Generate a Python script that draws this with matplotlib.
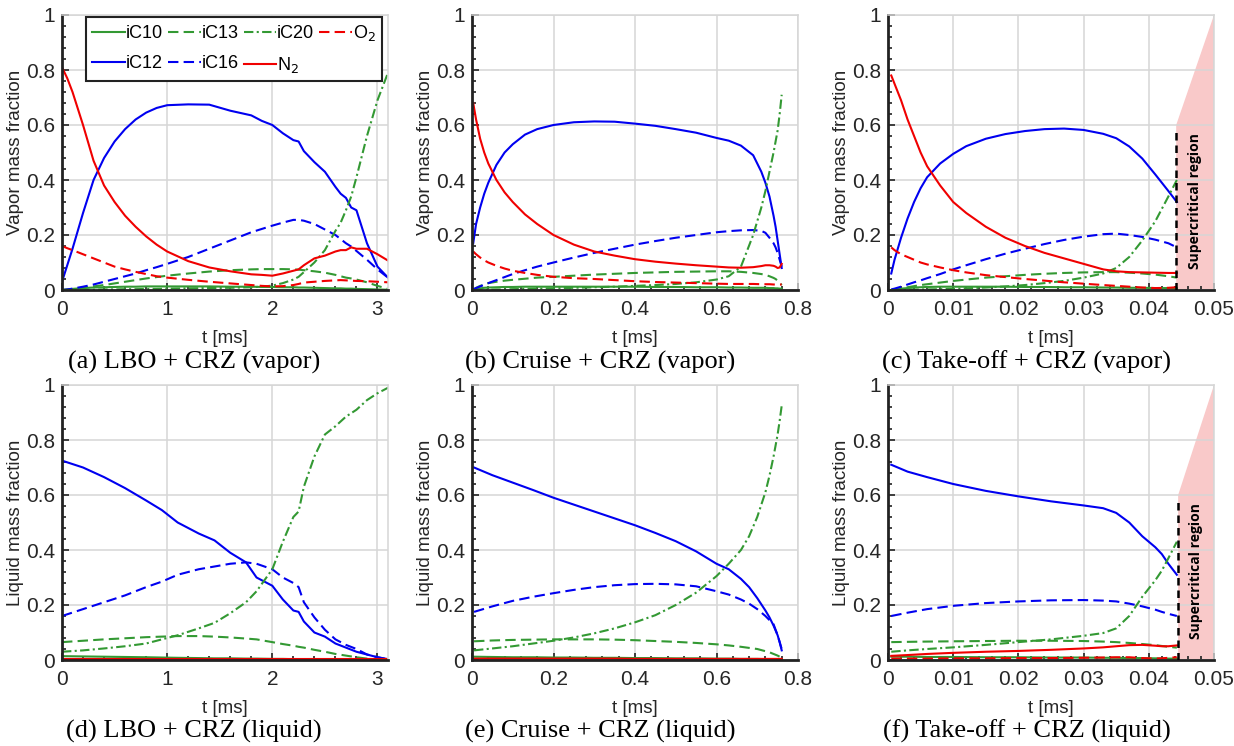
import matplotlib.pyplot as plt
from matplotlib.ticker import MultipleLocator, FuncFormatter

plt.rcParams['font.family'] = ['Liberation Sans', 'DejaVu Sans']

# ---- (a) LBO + CRZ, vapor ----
t_a = [0, 0.05, 0.1, 0.2, 0.3, 0.4, 0.5, 0.6, 0.7, 0.8, 0.9, 1.0, 1.2, 1.4, 1.6, 1.8,
       1.9, 2.0, 2.1, 2.2, 2.25, 2.3, 2.4, 2.5, 2.6, 2.65, 2.7, 2.75, 2.8, 2.9, 3.0, 3.1]
ic10_a = [0, 0.002, 0.004, 0.007, 0.009, 0.010, 0.011, 0.012, 0.012, 0.013, 0.013, 0.013,
          0.013, 0.013, 0.012, 0.012, 0.011, 0.011, 0.010, 0.010, 0.009, 0.009, 0.008, 0.007,
          0.006, 0.006, 0.005, 0.005, 0.004, 0.003, 0.002, 0.001]
ic12_a = [0.03, 0.09, 0.15, 0.28, 0.40, 0.48, 0.54, 0.585, 0.62, 0.645, 0.662, 0.672,
          0.675, 0.674, 0.652, 0.635, 0.615, 0.60, 0.57, 0.545, 0.54, 0.505, 0.465, 0.43,
          0.375, 0.35, 0.335, 0.30, 0.29, 0.17, 0.085, 0.045]
ic13_a = [0, 0.001, 0.003, 0.008, 0.013, 0.018, 0.024, 0.030, 0.036, 0.042, 0.047, 0.052,
          0.060, 0.067, 0.072, 0.075, 0.076, 0.076, 0.076, 0.075, 0.074, 0.072, 0.068, 0.063,
          0.055, 0.050, 0.045, 0.042, 0.038, 0.028, 0.015, 0.004]
ic16_a = [0, 0.002, 0.005, 0.012, 0.020, 0.030, 0.040, 0.050, 0.060, 0.072, 0.083, 0.095,
          0.120, 0.150, 0.180, 0.210, 0.222, 0.234, 0.245, 0.255, 0.255, 0.252, 0.240, 0.220,
          0.200, 0.185, 0.170, 0.158, 0.142, 0.110, 0.075, 0.045]
ic20_a = [0, 0, 0, 0.001, 0.001, 0.002, 0.002, 0.003, 0.003, 0.004, 0.004, 0.005,
          0.006, 0.007, 0.008, 0.010, 0.012, 0.016, 0.025, 0.038, 0.048, 0.065, 0.10, 0.145,
          0.215, 0.245, 0.29, 0.34, 0.41, 0.56, 0.69, 0.79]
n2_a = [0.81, 0.77, 0.72, 0.60, 0.47, 0.38, 0.32, 0.27, 0.23, 0.195, 0.165, 0.14,
        0.105, 0.082, 0.068, 0.057, 0.055, 0.052, 0.06, 0.07, 0.075, 0.09, 0.115, 0.125,
        0.14, 0.145, 0.145, 0.155, 0.15, 0.15, 0.13, 0.107]
o2_a = [0.16, 0.152, 0.145, 0.13, 0.115, 0.10, 0.085, 0.075, 0.066, 0.058, 0.050, 0.045,
        0.037, 0.030, 0.024, 0.018, 0.015, 0.013, 0.014, 0.018, 0.022, 0.027, 0.030, 0.033,
        0.035, 0.036, 0.035, 0.034, 0.033, 0.032, 0.030, 0.028]

# ---- (b) Cruise + CRZ, vapor ----
t_b = [0.003, 0.01, 0.02, 0.03, 0.04, 0.06, 0.08, 0.1, 0.13, 0.16, 0.2, 0.25, 0.3, 0.35,
       0.4, 0.45, 0.5, 0.55, 0.6, 0.63, 0.66, 0.69, 0.71, 0.72, 0.73, 0.74, 0.745, 0.75,
       0.755, 0.76]
ic10_b = [0, 0.003, 0.006, 0.008, 0.009, 0.010, 0.011, 0.011, 0.012, 0.012, 0.012, 0.012,
          0.012, 0.012, 0.012, 0.011, 0.011, 0.010, 0.010, 0.009, 0.009, 0.008, 0.008, 0.008,
          0.007, 0.007, 0.006, 0.006, 0.005, 0.005]
ic12_b = [0.17, 0.24, 0.30, 0.35, 0.39, 0.455, 0.50, 0.53, 0.565, 0.585, 0.60, 0.61,
          0.613, 0.612, 0.605, 0.597, 0.585, 0.572, 0.553, 0.543, 0.525, 0.49, 0.43, 0.39,
          0.34, 0.27, 0.23, 0.18, 0.13, 0.08]
ic13_b = [0, 0.008, 0.015, 0.020, 0.025, 0.030, 0.034, 0.037, 0.041, 0.045, 0.048, 0.052,
          0.056, 0.059, 0.062, 0.064, 0.066, 0.067, 0.068, 0.068, 0.066, 0.062, 0.058, 0.055,
          0.050, 0.044, 0.040, 0.034, 0.027, 0.018]
ic16_b = [0.003, 0.007, 0.013, 0.019, 0.025, 0.036, 0.047, 0.058, 0.072, 0.085, 0.10, 0.118,
          0.135, 0.15, 0.165, 0.178, 0.19, 0.20, 0.21, 0.214, 0.217, 0.218, 0.215, 0.208,
          0.19, 0.17, 0.155, 0.135, 0.11, 0.085]
ic20_b = [0, 0, 0, 0.001, 0.001, 0.002, 0.002, 0.003, 0.004, 0.005, 0.006, 0.008,
          0.010, 0.012, 0.015, 0.018, 0.022, 0.028, 0.038, 0.05, 0.085, 0.20, 0.30, 0.36,
          0.43, 0.50, 0.54, 0.58, 0.64, 0.71]
n2_b = [0.68, 0.62, 0.55, 0.50, 0.46, 0.40, 0.355, 0.32, 0.275, 0.24, 0.20, 0.165,
        0.14, 0.125, 0.112, 0.103, 0.096, 0.09, 0.085, 0.082, 0.081, 0.083, 0.087, 0.09,
        0.09, 0.088, 0.085, 0.08, 0.082, 0.095]
o2_b = [0.14, 0.13, 0.118, 0.108, 0.10, 0.088, 0.078, 0.07, 0.062, 0.055, 0.048, 0.043,
        0.04, 0.036, 0.032, 0.029, 0.027, 0.025, 0.023, 0.022, 0.022, 0.022, 0.021, 0.021,
        0.021, 0.02, 0.02, 0.02, 0.02, 0.02]

# ---- (c) Take-off + CRZ, vapor ----
t_c = [0.0005, 0.001, 0.002, 0.003, 0.004, 0.005, 0.006, 0.008, 0.01, 0.012, 0.015, 0.018,
       0.021, 0.024, 0.027, 0.03, 0.033, 0.035, 0.037, 0.039, 0.041, 0.043, 0.0443]
ic10_c = [0, 0.002, 0.005, 0.007, 0.009, 0.010, 0.011, 0.012, 0.012, 0.012, 0.012, 0.012,
          0.011, 0.011, 0.010, 0.010, 0.009, 0.009, 0.008, 0.008, 0.007, 0.007, 0.006]
ic12_c = [0.06, 0.11, 0.19, 0.26, 0.32, 0.37, 0.41, 0.46, 0.495, 0.523, 0.55, 0.567,
          0.578, 0.585, 0.587, 0.582, 0.568, 0.552, 0.522, 0.478, 0.42, 0.36, 0.32]
ic13_c = [0, 0.002, 0.006, 0.010, 0.014, 0.018, 0.021, 0.027, 0.033, 0.038, 0.045, 0.050,
          0.055, 0.059, 0.062, 0.064, 0.065, 0.065, 0.063, 0.060, 0.056, 0.050, 0.045]
ic16_c = [0.002, 0.005, 0.012, 0.020, 0.028, 0.035, 0.043, 0.058, 0.075, 0.09, 0.112, 0.132,
          0.15, 0.167, 0.182, 0.194, 0.203, 0.205, 0.20, 0.193, 0.183, 0.17, 0.155]
ic20_c = [0, 0, 0, 0.001, 0.001, 0.002, 0.002, 0.003, 0.004, 0.006, 0.009, 0.013,
          0.018, 0.025, 0.033, 0.045, 0.06, 0.08, 0.12, 0.18, 0.25, 0.34, 0.40]
n2_c = [0.78, 0.75, 0.69, 0.62, 0.56, 0.50, 0.45, 0.38, 0.32, 0.28, 0.23, 0.19,
        0.16, 0.135, 0.115, 0.095, 0.075, 0.068, 0.065, 0.064, 0.063, 0.062, 0.062]
o2_c = [0.155, 0.145, 0.13, 0.12, 0.11, 0.10, 0.093, 0.082, 0.072, 0.064, 0.054, 0.047,
        0.04, 0.034, 0.028, 0.023, 0.018, 0.015, 0.012, 0.009, 0.007, 0.008, 0.010]

# ---- (d) LBO + CRZ, liquid ----
t_d = [0, 0.2, 0.4, 0.6, 0.8, 0.95, 1.1, 1.3, 1.45, 1.6, 1.75, 1.85, 2.0, 2.1, 2.2,
       2.25, 2.3, 2.4, 2.5, 2.6, 2.7, 2.8, 2.9, 3.0, 3.1]
ic10_d = [0.014, 0.013, 0.012, 0.011, 0.010, 0.009, 0.008, 0.007, 0.006, 0.006, 0.005, 0.005,
          0.004, 0.004, 0.003, 0.003, 0.003, 0.002, 0.002, 0.002, 0.001, 0.001, 0.001, 0, 0]
ic12_d = [0.725, 0.70, 0.665, 0.625, 0.58, 0.545, 0.50, 0.46, 0.435, 0.39, 0.355, 0.30,
          0.27, 0.22, 0.18, 0.175, 0.14, 0.10, 0.085, 0.06, 0.045, 0.03, 0.02, 0.01, 0.003]
ic13_d = [0.065, 0.07, 0.075, 0.079, 0.083, 0.085, 0.087, 0.087, 0.085, 0.082, 0.078, 0.075,
          0.065, 0.058, 0.052, 0.048, 0.045, 0.037, 0.03, 0.022, 0.016, 0.01, 0.005, 0.002, 0]
ic16_d = [0.16, 0.185, 0.21, 0.235, 0.265, 0.285, 0.31, 0.33, 0.34, 0.35, 0.355, 0.35,
          0.33, 0.30, 0.28, 0.265, 0.21, 0.155, 0.11, 0.075, 0.055, 0.04, 0.02, 0.01, 0.003]
ic20_d = [0.03, 0.035, 0.042, 0.05, 0.06, 0.075, 0.09, 0.115, 0.135, 0.17, 0.21, 0.25,
          0.33, 0.43, 0.52, 0.54, 0.63, 0.74, 0.82, 0.85, 0.885, 0.91, 0.945, 0.97, 0.99]
n2_d = [0.002, 0.002, 0.002, 0.002, 0.002, 0.002, 0.002, 0.002, 0.002, 0.002, 0.002, 0.002,
        0.002, 0.002, 0.002, 0.002, 0.002, 0.002, 0.002, 0.002, 0.002, 0.002, 0.002, 0.002, 0.002]

# ---- (e) Cruise + CRZ, liquid ----
t_e = [0.005, 0.05, 0.1, 0.15, 0.2, 0.25, 0.3, 0.35, 0.4, 0.45, 0.5, 0.55, 0.6, 0.63,
       0.66, 0.68, 0.7, 0.72, 0.73, 0.74, 0.75, 0.755, 0.76]
ic10_e = [0.012, 0.011, 0.010, 0.010, 0.009, 0.009, 0.008, 0.008, 0.007, 0.007, 0.006, 0.006,
          0.005, 0.005, 0.004, 0.004, 0.004, 0.003, 0.003, 0.003, 0.002, 0.002, 0.002]
ic12_e = [0.70, 0.672, 0.645, 0.618, 0.59, 0.565, 0.54, 0.515, 0.49, 0.462, 0.432, 0.395,
          0.35, 0.33, 0.295, 0.265, 0.225, 0.18, 0.155, 0.125, 0.09, 0.065, 0.035]
ic13_e = [0.068, 0.071, 0.073, 0.074, 0.075, 0.075, 0.075, 0.074, 0.072, 0.069, 0.066, 0.062,
          0.057, 0.053, 0.048, 0.044, 0.040, 0.032, 0.028, 0.022, 0.016, 0.012, 0.008]
ic16_e = [0.175, 0.195, 0.215, 0.23, 0.243, 0.255, 0.265, 0.272, 0.276, 0.277, 0.275, 0.268,
          0.25, 0.238, 0.22, 0.205, 0.185, 0.16, 0.145, 0.13, 0.09, 0.065, 0.04]
ic20_e = [0.035, 0.042, 0.05, 0.06, 0.07, 0.082, 0.097, 0.115, 0.137, 0.163, 0.20, 0.245,
          0.305, 0.35, 0.40, 0.45, 0.52, 0.61, 0.67, 0.74, 0.82, 0.87, 0.925]
n2_e = [0.005, 0.005, 0.005, 0.005, 0.005, 0.005, 0.005, 0.005, 0.004, 0.004, 0.004, 0.004,
        0.004, 0.004, 0.004, 0.004, 0.004, 0.004, 0.004, 0.004, 0.004, 0.004, 0.004]

# ---- (f) Take-off + CRZ, liquid ----
t_f = [0.0005, 0.003, 0.006, 0.01, 0.015, 0.02, 0.025, 0.03, 0.033, 0.035, 0.037, 0.039,
       0.041, 0.042, 0.043, 0.0443]
ic10_f = [0.012, 0.012, 0.011, 0.011, 0.010, 0.010, 0.009, 0.009, 0.008, 0.008, 0.007, 0.007,
          0.006, 0.006, 0.005, 0.005]
ic12_f = [0.71, 0.685, 0.665, 0.64, 0.615, 0.595, 0.577, 0.562, 0.552, 0.535, 0.50, 0.45,
          0.41, 0.385, 0.35, 0.31]
ic13_f = [0.065, 0.066, 0.067, 0.068, 0.069, 0.070, 0.070, 0.069, 0.067, 0.065, 0.062, 0.058,
          0.054, 0.051, 0.048, 0.045]
ic16_f = [0.16, 0.172, 0.185, 0.197, 0.207, 0.213, 0.217, 0.218, 0.216, 0.213, 0.205, 0.195,
          0.183, 0.175, 0.168, 0.16]
ic20_f = [0.03, 0.035, 0.04, 0.046, 0.055, 0.065, 0.075, 0.088, 0.098, 0.115, 0.16, 0.23,
          0.29, 0.325, 0.37, 0.43]
n2_f = [0.015, 0.018, 0.022, 0.026, 0.030, 0.033, 0.037, 0.042, 0.046, 0.050, 0.054, 0.055,
        0.052, 0.050, 0.050, 0.053]
o2_f = [0.005, 0.005, 0.005, 0.006, 0.006, 0.007, 0.007, 0.008, 0.009, 0.010, 0.010, 0.007,
        0.005, 0.006, 0.008, 0.010]

# onset of the supercritical region in the take-off case [ms]
t_crit_c = 0.0442
t_crit_f = 0.0445

GREEN = '#339933'
BLUE = '#0000f0'
RED = '#f00000'
DASH = (5, 2.5)
DASHDOT = (4.5, 1.6, 1, 1.6)
LW = 1.5


def draw(ax, t, ic10=None, ic12=None, ic13=None, ic16=None, ic20=None, n2=None, o2=None):
    if ic10 is not None:
        ax.plot(t, ic10, color=GREEN, lw=LW, label='iC10')
    if ic12 is not None:
        ax.plot(t, ic12, color=BLUE, lw=LW, label='iC12')
    if ic13 is not None:
        ax.plot(t, ic13, color=GREEN, lw=LW, dashes=DASH, label='iC13')
    if ic16 is not None:
        ax.plot(t, ic16, color=BLUE, lw=LW, dashes=DASH, label='iC16')
    if ic20 is not None:
        ax.plot(t, ic20, color=GREEN, lw=LW, dashes=DASHDOT, label='iC20')
    if n2 is not None:
        ax.plot(t, n2, color=RED, lw=LW, label=r'N$_2$')
    if o2 is not None:
        ax.plot(t, o2, color=RED, lw=LW, dashes=DASH, label=r'O$_2$')


def style(ax, xmax, xstep, xminor, ylabel):
    ax.set_xlim(0, xmax)
    ax.set_ylim(0, 1)
    ax.xaxis.set_major_locator(MultipleLocator(xstep))
    ax.xaxis.set_minor_locator(MultipleLocator(xminor))
    ax.yaxis.set_major_locator(MultipleLocator(0.2))
    ax.yaxis.set_minor_locator(MultipleLocator(0.04))
    fmt = FuncFormatter(lambda v, p: '%g' % round(v, 6))
    ax.xaxis.set_major_formatter(fmt)
    ax.yaxis.set_major_formatter(fmt)
    ax.grid(True, which='major', color='#d6d6d6', lw=1.1)
    ax.set_axisbelow(True)
    for s in ['top', 'right']:
        ax.spines[s].set_color('#d6d6d6')
        ax.spines[s].set_linewidth(1.1)
    for s in ['left', 'bottom']:
        ax.spines[s].set_color('#222222')
        ax.spines[s].set_linewidth(2)
    ax.tick_params(which='both', direction='in', top=False, right=False,
                   color='#222222', labelsize=15, labelcolor='#262626')
    ax.tick_params(which='major', length=5, width=1.2)
    ax.tick_params(which='minor', length=3, width=1.2)
    ax.tick_params(axis='x', pad=7)
    ax.tick_params(axis='y', pad=5)
    ax.set_xlabel('t [ms]', fontsize=13.5, color='#262626')
    ax.set_ylabel(ylabel, fontsize=13.5, color='#262626')
    ax.xaxis.set_label_coords(0.5, -0.145)
    ax.yaxis.set_label_coords(-0.118, 0.5)


def supercritical(ax, tc):
    ax.fill([tc, tc, 0.05, 0.05], [0, 0.6, 1.0, 0], color='#f9c9c9', lw=0, zorder=0.3)
    ax.plot([tc, tc], [0, 0.59], color='k', lw=1.8, dashes=(3, 2), zorder=3)
    ax.text((tc + 0.05) / 2, 0.325, 'Supercritical region', rotation=90, ha='center',
            va='center', fontsize=10, fontweight='bold', family=['Open Sans', 'DejaVu Sans'])


W, H = 1234, 746
fig = plt.figure(figsize=(W / 100, H / 100), dpi=100)

lefts = [62, 472, 888]
tops = [15, 385]
aw, ah = 326, 275
axes = []
for r in range(2):
    row = []
    for c in range(3):
        ax = fig.add_axes([lefts[c] / W, 1 - (tops[r] + ah) / H, aw / W, ah / H])
        row.append(ax)
    axes.append(row)

ax_a, ax_b, ax_c = axes[0]
ax_d, ax_e, ax_f = axes[1]

draw(ax_a, t_a, ic10_a, ic12_a, ic13_a, ic16_a, ic20_a, n2_a, o2_a)
draw(ax_b, t_b, ic10_b, ic12_b, ic13_b, ic16_b, ic20_b, n2_b, o2_b)
draw(ax_c, t_c, ic10_c, ic12_c, ic13_c, ic16_c, ic20_c, n2_c, o2_c)
draw(ax_d, t_d, ic10_d, ic12_d, ic13_d, ic16_d, ic20_d, n2_d)
draw(ax_e, t_e, ic10_e, ic12_e, ic13_e, ic16_e, ic20_e, n2_e)
draw(ax_f, t_f, ic10_f, ic12_f, ic13_f, ic16_f, ic20_f, n2_f, o2_f)

style(ax_a, 3.1, 1, 0.2, 'Vapor mass fraction')
style(ax_b, 0.8, 0.2, 0.04, 'Vapor mass fraction')
style(ax_c, 0.05, 0.01, 0.002, 'Vapor mass fraction')
style(ax_d, 3.1, 1, 0.2, 'Liquid mass fraction')
style(ax_e, 0.8, 0.2, 0.04, 'Liquid mass fraction')
style(ax_f, 0.05, 0.01, 0.002, 'Liquid mass fraction')

supercritical(ax_c, t_crit_c)
supercritical(ax_f, t_crit_f)

# legend: iC10 iC13 iC20 O2 on the first row, iC12 iC16 N2 on the second
leg = ax_a.legend(ncol=4, loc='upper left', bbox_to_anchor=(0.074, 0.993), fontsize=13,
                  handlelength=1.8, handletextpad=0.05, columnspacing=0.28,
                  labelspacing=0.7, borderpad=0.35, borderaxespad=0, fancybox=False,
                  framealpha=1, edgecolor='#222222')
leg.get_frame().set_linewidth(1.5)

captions = ['(a) LBO + CRZ (vapor)', '(b) Cruise + CRZ (vapor)', '(c) Take-off + CRZ (vapor)',
            '(d) LBO + CRZ (liquid)', '(e) Cruise + CRZ (liquid)', '(f) Take-off + CRZ (liquid)']
cap_x = [194, 600, 1027]
cap_y = [362, 731]
for i, txt in enumerate(captions):
    r, c = divmod(i, 3)
    fig.text(cap_x[c] / W, 1 - cap_y[r] / H, txt, ha='center', va='center',
             fontsize=19, family=['Liberation Serif', 'DejaVu Serif'])

fig.savefig('out.png', dpi=100)
